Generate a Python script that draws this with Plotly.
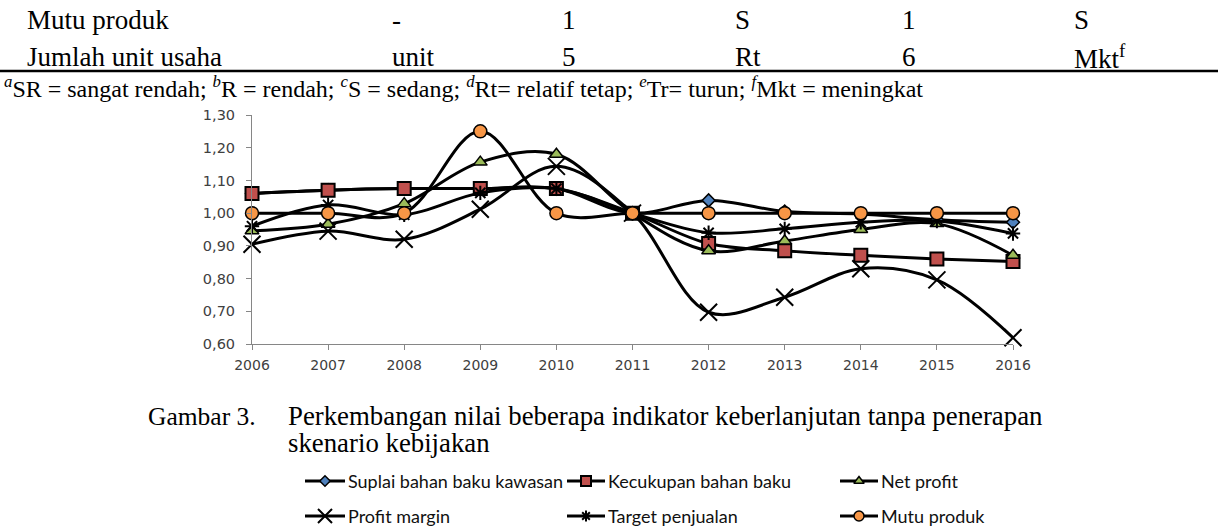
import plotly.graph_objects as go

W, H = 1218, 527

# ---------------- data ----------------
years = [2006, 2007, 2008, 2009, 2010, 2011, 2012, 2013, 2014, 2015, 2016]
suplai = [1.060, 1.070, 1.075, 1.075, 1.075, 1.000, 1.039, 1.005, 0.997, 0.980, 0.972]
kecukupan = [1.060, 1.070, 1.075, 1.075, 1.075, 1.000, 0.907, 0.885, 0.871, 0.860, 0.852]
net_profit = [0.946, 0.966, 1.029, 1.156, 1.180, 1.000, 0.885, 0.915, 0.950, 0.968, 0.871]
profit_margin = [0.905, 0.945, 0.920, 1.012, 1.143, 1.000, 0.697, 0.743, 0.830, 0.796, 0.619]
target_penjualan = [0.960, 1.025, 0.995, 1.062, 1.075, 1.000, 0.940, 0.952, 0.972, 0.976, 0.938]
mutu_produk = [1.00, 1.00, 1.00, 1.25, 1.00, 1.00, 1.00, 1.00, 1.00, 1.00, 1.00]

series_names = ["Suplai bahan baku kawasan", "Kecukupan bahan baku", "Net profit",
                "Profit margin", "Target penjualan", "Mutu produk"]
series_values = [suplai, kecukupan, net_profit, profit_margin, target_penjualan, mutu_produk]

y_tickvals = [0.6, 0.7, 0.8, 0.9, 1.0, 1.1, 1.2, 1.3]
y_ticktext = ["0,60", "0,70", "0,80", "0,90", "1,00", "1,10", "1,20", "1,30"]
x_ticktext = [str(y) for y in years]

table_rows = [
    ["Mutu produk", "-", "1", "S", "1", "S"],
    ["Jumlah unit usaha", "unit", "5", "Rt", "6", "Mkt<sup>f</sup>"],
]
footnote = ("<i><sup>a</sup></i>SR = sangat rendah; <i><sup>b</sup></i>R = rendah; "
            "<i><sup>c</sup></i>S = sedang; <i><sup>d</sup></i>Rt= relatif tetap; "
            "<i><sup>e</sup></i>Tr= turun; <i><sup>f</sup></i>Mkt = meningkat")
caption_label = "Gambar 3."
caption_lines = ["Perkembangan nilai beberapa indikator keberlanjutan tanpa penerapan",
                 "skenario kebijakan"]

# ---------------- styles ----------------
styles = [
    dict(symbol="diamond", size=10, color="#4F81BD", line=dict(color="black", width=1.5)),
    dict(symbol="square", size=13, color="#C0504D", line=dict(color="black", width=2)),
    dict(symbol="triangle-up", size=12, color="#9BBB59", line=dict(color="black", width=1.5)),
    dict(symbol="x-thin-open", size=17, color="black", line=dict(color="black", width=2)),
    dict(symbol="asterisk-open", size=12, color="black", line=dict(color="black", width=2)),
    dict(symbol="circle", size=13, color="#F79646", line=dict(color="black", width=1.5)),
]


def px(x):
    return x / W


def py(y):
    return 1 - y / H


fig = go.Figure()

for name, vals, st in zip(series_names, series_values, styles):
    fig.add_trace(go.Scatter(
        x=years, y=vals, name=name, mode="lines+markers",
        line=dict(color="black", width=3, shape="spline", smoothing=1.0),
        marker=st, cliponaxis=False, showlegend=False,
        xaxis="x", yaxis="y",
    ))

# ---------------- manual legend (pixel-space axes) ----------------
leg_cols = [(305, 345), (567, 605), (840, 878)]
leg_rows = [481, 516]
for i, (name, st) in enumerate(zip(series_names, styles)):
    r, c = divmod(i, 3)
    x0, x1 = leg_cols[c]
    yy = leg_rows[r]
    fig.add_trace(go.Scatter(
        x=[x0, x1], y=[yy, yy], mode="lines", line=dict(color="black", width=3),
        xaxis="x2", yaxis="y2", showlegend=False, hoverinfo="skip", cliponaxis=False))
    st2 = dict(st)
    st2["size"] = max(8, st["size"] - 3)
    fig.add_trace(go.Scatter(
        x=[(x0 + x1) / 2], y=[yy], mode="markers", marker=st2,
        xaxis="x2", yaxis="y2", showlegend=False, hoverinfo="skip", cliponaxis=False))
    fig.add_annotation(x=x1 + 1, y=yy, xref="x2", yref="y2", text=name,
                       showarrow=False, xanchor="left", yanchor="middle",
                       font=dict(family="Lato", size=18, color="#111"))

# ---------------- page text ----------------
serif = "Liberation Serif"
col_x = [25, 390, 560, 733, 900, 1072]
row_y = [20, 57]
for r, row in enumerate(table_rows):
    for c, txt in enumerate(row):
        fig.add_annotation(x=px(col_x[c]), y=py(row_y[r]), xref="paper", yref="paper",
                           text=txt, showarrow=False,
                           xanchor="left", yanchor="middle",
                           font=dict(family=serif, size=27, color="black"))

fig.add_shape(type="line", xref="paper", yref="paper", x0=0, x1=1, y0=py(71), y1=py(71),
              line=dict(color="black", width=2.5))
fig.add_annotation(x=px(2), y=py(87), xref="paper", yref="paper", text=footnote,
                   showarrow=False, xanchor="left", yanchor="middle",
                   font=dict(family=serif, size=24, color="black"))

fig.add_annotation(x=px(146), y=py(416), xref="paper", yref="paper", text=caption_label,
                   showarrow=False, xanchor="left", yanchor="middle",
                   font=dict(family=serif, size=25.5, color="black"))
for k, line in enumerate(caption_lines):
    fig.add_annotation(x=px(286), y=py(416 + 27 * k), xref="paper", yref="paper", text=line,
                       showarrow=False, xanchor="left", yanchor="middle",
                       font=dict(family=serif, size=26.8, color="black"))

# ---------------- layout ----------------
axis_grey = "#868686"
fig.update_layout(
    width=W, height=H,
    margin=dict(l=0, r=0, t=0, b=0, pad=0, autoexpand=False),
    paper_bgcolor="white", plot_bgcolor="rgba(0,0,0,0)",
    xaxis=dict(domain=[px(252), px(1013)], range=[2006, 2016], tickvals=years,
               ticktext=x_ticktext, showgrid=False, zeroline=False, showline=True,
               linecolor=axis_grey, linewidth=1, ticks="outside", ticklen=5,
               tickcolor=axis_grey, anchor="y", ticklabelstandoff=3, automargin=False,
               tickfont=dict(family="DejaVu Sans", size=14, color="#404040")),
    yaxis=dict(domain=[py(344), py(115)], range=[0.6, 1.3], tickvals=y_tickvals,
               ticktext=y_ticktext, showgrid=False, zeroline=False, showline=True,
               linecolor=axis_grey, linewidth=1, ticks="outside", ticklen=5,
               tickcolor=axis_grey, anchor="x", ticklabelstandoff=8, automargin=False,
               tickfont=dict(family="DejaVu Sans", size=14.5, color="#404040")),
    xaxis2=dict(domain=[0, 1], range=[0, W], visible=False, anchor="y2", fixedrange=True,
                automargin=False),
    yaxis2=dict(domain=[0, 1], range=[H, 0], visible=False, anchor="x2", fixedrange=True,
                automargin=False),
    showlegend=False,
)

fig.write_html("out.html", config={"displayModeBar": False},
               post_script="document.body.style.margin='0px';")
